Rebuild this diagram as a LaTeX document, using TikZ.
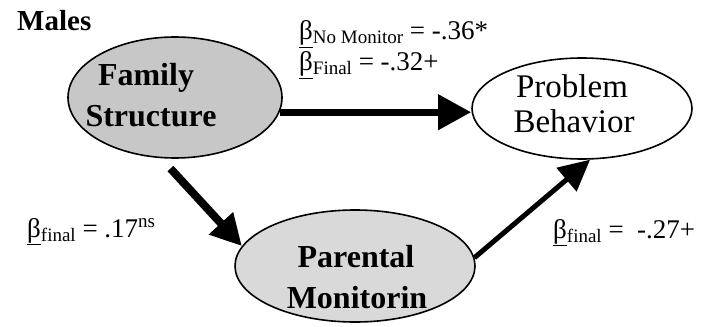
\documentclass[tikz,border=0pt]{standalone}
\usepackage{fontspec}
\setmainfont{Liberation Serif}
\usetikzlibrary{arrows.meta,shapes.geometric}
\newcommand{\ulbeta}{\underline{β}}
\newcommand{\lowsub}[1]{\raisebox{-4pt}{\fontsize{19}{19}\selectfont #1}}
\newcommand{\highsup}[1]{\raisebox{10pt}{\fontsize{19}{19}\selectfont #1}}
\begin{document}
\begin{tikzpicture}[x=1pt,y=-1pt,
  oval/.style={ellipse,draw=black,line width=1.6pt,inner sep=0pt},
  ovaltext/.style={font=\fontsize{33}{36}\selectfont,inner sep=0pt,anchor=base},
  boldtext/.style={ovaltext,font=\fontsize{32}{36}\selectfont\bfseries},
  coef/.style={font=\fontsize{27}{30}\selectfont,inner sep=0pt,anchor=base west},
  conn/.style={draw=black}]
\useasboundingbox[fill=white] (0,0) rectangle (708,326);

% title
\node[font=\fontsize{29}{32}\selectfont\bfseries,inner sep=0pt,anchor=base west] (title) at (17,31) {Males};

% ellipses
\node[oval,fill=black!22,minimum width=214pt,minimum height=121pt] (fs) at (175,97.5) {};
\node[oval,fill=white,minimum width=220pt,minimum height=101pt] (pb) at (582,108.5) {};
\node[oval,fill=black!15,minimum width=240pt,minimum height=112pt] (pm) at (355,266) {};

% ellipse texts
\node[boldtext] (fs1) at (146,86) {Family};
\node[boldtext] (fs2) at (151,126) {Structure};
\node[ovaltext] (pb1) at (572,97) {Problem};
\node[ovaltext] (pb2) at (574,132) {Behavior};
\node[boldtext] (pm1) at (356,267) {Parental};
\node[boldtext] (pm2) at (357,308) {Monitorin};

% connectors
\draw[conn,line width=7pt,-{Triangle[length=33pt,width=34pt]}] (fs.-8.5) -- (fs.-8.5 -| pb.west);
\draw[conn,line width=8pt,shorten <=14pt,-{Triangle[length=31pt,width=31pt]}] (fs.-103.4) -- (pm.170.6);
\draw[conn,line width=5pt,-{Triangle[length=31pt,width=30pt]}] (pm.4.4) -- (pb.-81);

% coefficients
\node[coef] (c1) at (299,40) {\ulbeta\lowsub{No Monitor} = -.36*};
\node[coef] (c2) at (299,71) {\ulbeta\lowsub{Final} = -.32+};
\node[coef] (c3) at (27,237) {\ulbeta\lowsub{final} = .17\highsup{ns}};
\node[coef] (c4) at (553,238) {\ulbeta\lowsub{final} =\ \ -.27+};
\end{tikzpicture}
\end{document}
